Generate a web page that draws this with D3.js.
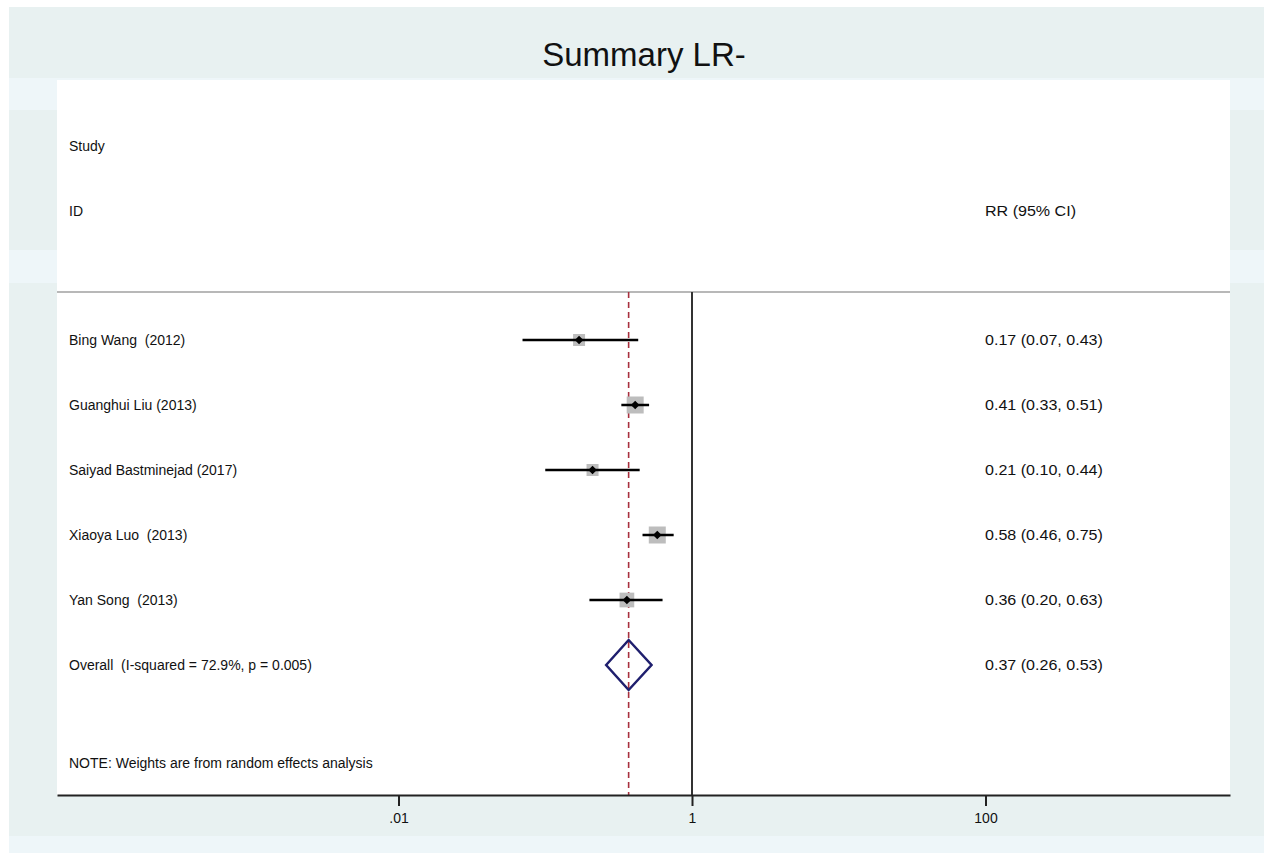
<!DOCTYPE html>
<html>
<head>
<meta charset="utf-8">
<script src="https://cdn.jsdelivr.net/npm/d3@7"></script>
<style>
  body { margin: 0; background: #fff; }
  svg text { font-family: "Liberation Sans", Arial, sans-serif; fill: #111; white-space: pre; }
</style>
</head>
<body>
<div id="forest"></div>
<script>
// study data
const studies = ["Bing Wang  (2012)", "Guanghui Liu (2013)", "Saiyad Bastminejad (2017)", "Xiaoya Luo  (2013)", "Yan Song  (2013)"];
const rr = [0.17, 0.41, 0.21, 0.58, 0.36];
const lower = [0.07, 0.33, 0.10, 0.46, 0.20];
const upper = [0.43, 0.51, 0.44, 0.75, 0.63];
const weights = [13.3, 26.7, 13.3, 26.7, 20.0];
const ciLabels = ["0.17 (0.07, 0.43)", "0.41 (0.33, 0.51)", "0.21 (0.10, 0.44)", "0.58 (0.46, 0.75)", "0.36 (0.20, 0.63)"];

const overall = { label: "Overall  (I-squared = 72.9%, p = 0.005)", rr: 0.37, lo: 0.26, hi: 0.53, text: "0.37 (0.26, 0.53)" };

const tickVals = [0.01, 1, 100];
const tickLabels = [".01", "1", "100"];

(function() {
    const width = 1264, height = 853;

    const plotL = 57, plotR = 1230, plotT = 80, axisY = 795;

    const svg = d3.select("#forest").append("svg")
        .attr("width", width)
        .attr("height", height);

    // background, stata-ish bands
    svg.append("rect").attr("x", 9).attr("y", 7).attr("width", width - 9).attr("height", height - 7).attr("fill", "#e8f1f1");
    [[78, 32], [250, 33], [836, 17]].forEach(b => {
        svg.append("rect").attr("x", 9).attr("y", b[0]).attr("width", width - 9).attr("height", b[1]).attr("fill", "#eef6f9");
    });
    svg.append("rect")
        .attr("x", plotL).attr("y", plotT)
        .attr("width", plotR - plotL).attr("height", axisY - plotT)
        .attr("fill", "#fff");

    // log scale: 1 decade ~146.75px, 1 at x=692
    const pxDec = 146.75;
    const x = d3.scaleLog()
        .domain([Math.pow(10, (plotL - 692) / pxDec), Math.pow(10, (plotR - 692) / pxDec)])
        .range([plotL, plotR]);

    const y = d3.scaleLinear().domain([0, 5]).range([340, 665]);
    const side = d3.scaleSqrt().domain([0, 26.7]).range([0, 17]);

    // right column text is drawn a bit wider in the original
    function stretch(sel) {
        sel.each(function() {
            const len = this.getComputedTextLength();
            d3.select(this).attr("textLength", len * 1.147).attr("lengthAdjust", "spacingAndGlyphs");
        });
    }

    // title
    svg.append("text")
        .attr("x", 644).attr("y", 66)
        .attr("text-anchor", "middle")
        .attr("font-size", 33)
        .text("Summary LR-");

    // headers
    svg.append("text").attr("x", 69).attr("y", 151).attr("font-size", 14).text("Study");
    svg.append("text").attr("x", 69).attr("y", 216).attr("font-size", 14).text("ID");
    svg.append("text").attr("x", 985).attr("y", 216).attr("font-size", 14).text("RR (95% CI)").call(stretch);

    // separator
    svg.append("line")
        .attr("x1", plotL).attr("x2", plotR)
        .attr("y1", 292).attr("y2", 292)
        .attr("stroke", "#b8b8b8").attr("stroke-width", 2);

    // null line
    svg.append("line")
        .attr("x1", x(1)).attr("x2", x(1))
        .attr("y1", 292).attr("y2", axisY)
        .attr("stroke", "#333").attr("stroke-width", 2);

    // overall dashed line
    svg.append("line")
        .attr("x1", x(overall.rr)).attr("x2", x(overall.rr))
        .attr("y1", 292).attr("y2", axisY)
        .attr("stroke", "#a8303e").attr("stroke-width", 1.6)
        .attr("stroke-dasharray", "6,4");

    const rows = studies.map((s, i) => ({ name: s, rr: rr[i], lo: lower[i], hi: upper[i], w: weights[i], txt: ciLabels[i], i: i }));

    const g = svg.append("g");

    // weight boxes
    g.selectAll("rect.box")
        .data(rows).enter().append("rect")
        .attr("class", "box")
        .attr("x", d => x(d.rr) - side(d.w) / 2)
        .attr("y", d => y(d.i) - side(d.w) / 2)
        .attr("width", d => side(d.w))
        .attr("height", d => side(d.w))
        .attr("fill", "#bdbdbd");

    // CIs
    g.selectAll("line.ci")
        .data(rows).enter().append("line")
        .attr("x1", d => x(d.lo)).attr("x2", d => x(d.hi))
        .attr("y1", d => y(d.i)).attr("y2", d => y(d.i))
        .attr("stroke", "#000").attr("stroke-width", 2.5);

    // point markers
    g.selectAll("path.pt")
        .data(rows).enter().append("path")
        .attr("d", d => {
            const cx = x(d.rr), cy = y(d.i), r = 4.3;
            return `M${cx},${cy - r}L${cx + r},${cy}L${cx},${cy + r}L${cx - r},${cy}Z`;
        })
        .attr("fill", "#000");

    // labels
    g.selectAll("text.name")
        .data(rows).enter().append("text")
        .attr("x", 69).attr("y", d => y(d.i) + 5)
        .attr("font-size", 14)
        .text(d => d.name);

    g.selectAll("text.ci")
        .data(rows).enter().append("text")
        .attr("x", 985).attr("y", d => y(d.i) + 5)
        .attr("font-size", 14)
        .text(d => d.txt)
        .call(stretch);

    // overall diamond
    const oy = y(5);
    svg.append("path")
        .attr("d", `M${x(overall.lo)},${oy}L${x(overall.rr)},${oy - 25}L${x(overall.hi)},${oy}L${x(overall.rr)},${oy + 25}Z`)
        .attr("fill", "none")
        .attr("stroke", "#1f1f6e")
        .attr("stroke-width", 2.5);
    svg.append("text").attr("x", 69).attr("y", oy + 5).attr("font-size", 14).text(overall.label);
    svg.append("text").attr("x", 985).attr("y", oy + 5).attr("font-size", 14).text(overall.text).call(stretch);

    svg.append("text").attr("x", 69).attr("y", 768).attr("font-size", 14)
        .text("NOTE: Weights are from random effects analysis");

    // x axis
    const axis = svg.append("g")
        .attr("transform", `translate(0,${axisY})`)
        .call(d3.axisBottom(x)
            .tickValues(tickVals)
            .tickFormat((d, i) => tickLabels[i])
            .tickSize(11)
            .tickSizeOuter(0));
    axis.select(".domain").attr("stroke", "#222").attr("stroke-width", 2);
    axis.selectAll(".tick line").attr("stroke", "#222").attr("stroke-width", 2);
    axis.selectAll(".tick text")
        .attr("font-size", 14)
        .attr("font-family", "Liberation Sans, Arial, sans-serif")
        .attr("fill", "#111")
        .attr("dy", "1.0em")
        .attr("y", 14);
})();
</script>
</body>
</html>
